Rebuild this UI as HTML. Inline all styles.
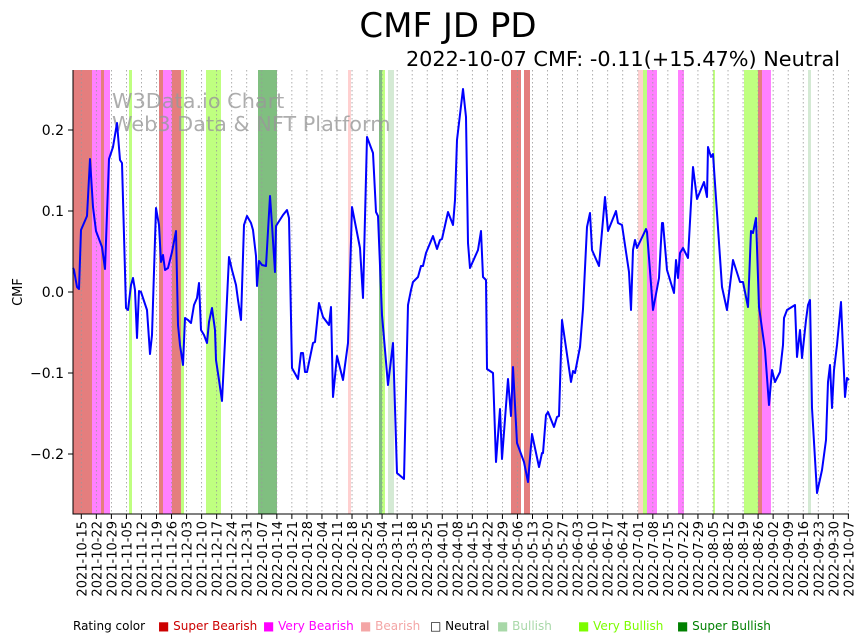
<!DOCTYPE html>
<html><head><meta charset="utf-8"><style>
body{margin:0;background:#fff;width:864px;height:641px;overflow:hidden}
svg{display:block;font-family:"DejaVu Sans","Liberation Sans",sans-serif}
</style></head><body>
<svg width="864" height="641" viewBox="0 0 864 641" xmlns="http://www.w3.org/2000/svg">
<text x="448" y="37" font-size="34" text-anchor="middle">CMF JD PD</text>
<text x="840" y="66" font-size="20.8" text-anchor="end">2022-10-07 CMF: -0.11(+15.47%) Neutral</text>
<g id="bands">
<rect x="73" y="70" width="19" height="444" fill="#e47e7e"/>
<rect x="92" y="70" width="9" height="444" fill="#ff80ff"/>
<rect x="101" y="70" width="3" height="444" fill="#e47e7e"/>
<rect x="104" y="70" width="6" height="444" fill="#ff80ff"/>
<rect x="129" y="70" width="3" height="444" fill="#bfff80"/>
<rect x="159" y="70" width="4" height="444" fill="#e47e7e"/>
<rect x="163" y="70" width="9" height="444" fill="#ff80ff"/>
<rect x="172" y="70" width="9" height="444" fill="#e47e7e"/>
<rect x="181" y="70" width="3" height="444" fill="#bfff80"/>
<rect x="206" y="70" width="15" height="444" fill="#bfff80"/>
<rect x="258" y="70" width="19" height="444" fill="#80bf80"/>
<rect x="348" y="70" width="3" height="444" fill="#ffd0d0"/>
<rect x="379" y="70" width="3" height="444" fill="#80bf80"/>
<rect x="382" y="70" width="3" height="444" fill="#bfff80"/>
<rect x="388" y="70" width="6" height="444" fill="#d4ead4"/>
<rect x="511" y="70" width="10" height="444" fill="#e47e7e"/>
<rect x="524" y="70" width="6" height="444" fill="#e47e7e"/>
<rect x="638" y="70" width="5" height="444" fill="#ffd0d0"/>
<rect x="643" y="70" width="4" height="444" fill="#bfff80"/>
<rect x="647" y="70" width="10" height="444" fill="#ff80ff"/>
<rect x="678" y="70" width="6" height="444" fill="#ff80ff"/>
<rect x="713" y="70" width="2" height="444" fill="#bfff80"/>
<rect x="744" y="70" width="14" height="444" fill="#bfff80"/>
<rect x="758" y="70" width="4" height="444" fill="#e47e7e"/>
<rect x="762" y="70" width="9" height="444" fill="#ff80ff"/>
<rect x="808" y="70" width="3" height="444" fill="#d4ead4"/>
</g>
<g id="grid" stroke="#999" stroke-width="0.8" stroke-dasharray="1.5,2.5"></g>
<text x="112" y="108" font-size="20.8" fill="#999" opacity="0.8">W3Data.io Chart</text>
<text x="112" y="131" font-size="20.8" fill="#999" opacity="0.8">Web3 Data &amp; NFT Platform</text>
<polyline fill="none" stroke="#0000ff" stroke-width="2" stroke-linejoin="round" points="73,268 74,270 77,287 79,289 81,230 87,216 90,159 93,207 96,231 102,247 105,269 109,159 113,147 117,123 120,160 122,163 126,308 128,310 131,285 133,278 135,290 137,338 139,291 141,292 147,310 150,354 152,335 156,208 159,225 161,262 163,255 165,270 168,268 172,252 176,231 178,325 180,345 183,365 185,318 188,320 191,323 194,305 197,298 199,283 201,330 204,335 207,343 209,322 212,308 215,330 216,360 219,380 222,401 225,341 229,257 232,270 236,285 238,300 241,320 244,225 247,216 251,223 253,230 256,256 257,286 259,261 262,265 266,266 270,196 272,225 275,272 276,226 283,215 287,210 289,218 292,368 298,379 301,353 303,353 305,372 307,372 313,343 315,342 319,303 323,317 329,325 331,307 333,397 337,356 343,380 348,343 352,207 360,248 363,298 367,137 373,153 376,212 378,216 382,315 388,385 393,343 397,473 404,479 408,305 411,290 413,282 418,277 421,266 423,266 426,253 433,236 437,249 440,240 442,239 448,212 453,225 455,200 457,140 463,89 466,117 468,243 470,268 478,250 481,231 483,277 486,280 487,369 493,373 496,462 500,409 502,459 508,379 511,416 513,367 517,443 524,462 528,482 532,434 539,467 542,453 543,453 546,415 548,412 554,427 557,417 559,416 562,320 571,382 573,371 575,373 580,347 583,309 587,227 590,213 592,250 599,266 605,197 608,231 616,211 618,223 622,225 629,272 631,310 633,250 635,240 637,248 646,229 647,232 653,310 659,278 662,223 663,223 667,270 674,293 676,260 678,278 680,253 683,248 688,258 693,167 697,199 704,182 707,197 708,147 711,157 713,154 722,287 727,310 733,260 740,282 743,282 748,307 751,231 753,233 756,218 759,307 765,350 769,405 772,370 775,382 780,372 783,345 784,318 787,310 795,305 797,357 800,330 802,358 806,320 808,305 810,300 812,408 817,493 822,470 826,440 828,382 830,365 832,408 834,370 837,345 841,302 845,397 847,378 849,380"/>
<g stroke="#000" stroke-width="1" fill="none">
<line x1="73" y1="70" x2="73" y2="514"/>
<line x1="72.5" y1="514" x2="849" y2="514"/>
<line x1="68" y1="130" x2="73" y2="130"/><line x1="68" y1="211" x2="73" y2="211"/><line x1="68" y1="292" x2="73" y2="292"/><line x1="68" y1="373" x2="73" y2="373"/><line x1="68" y1="454" x2="73" y2="454"/>
</g>
<g font-size="14" text-anchor="end">
<text x="64" y="135">0.2</text><text x="64" y="216">0.1</text><text x="64" y="297">0.0</text><text x="64" y="378">−0.1</text><text x="64" y="459">−0.2</text>
</g>
<text transform="translate(22,292) rotate(-90)" font-size="13" text-anchor="middle">CMF</text>
<g id="xt" font-size="13"></g>
<g font-size="12">
<text x="73" y="630">Rating color</text>
<text x="158" y="630" fill="#cc0000">■ Super Bearish</text>
<text x="263" y="630" fill="#ff00ff">■ Very Bearish</text>
<text x="360" y="630" fill="#f4a6a6">■ Bearish</text>
<text x="430" y="630" fill="#000">□ Neutral</text>
<text x="497" y="630" fill="#a8d8a8">■ Bullish</text>
<text x="578" y="630" fill="#7cfc00">■ Very Bullish</text>
<text x="677" y="630" fill="#008000">■ Super Bullish</text>
</g>
<script>
(function(){
var ns="http://www.w3.org/2000/svg",g=document.getElementById("grid"),xt=document.getElementById("xt");
var d=new Date(Date.UTC(2021,9,15));
for(var k=0;k<52;k++){
 var x=81.3+k*15.04;
 var l=document.createElementNS(ns,"line");l.setAttribute("x1",x);l.setAttribute("x2",x);l.setAttribute("y1",70);l.setAttribute("y2",514);g.appendChild(l);
 var t=document.createElementNS(ns,"line");t.setAttribute("x1",x);t.setAttribute("x2",x);t.setAttribute("y1",514);t.setAttribute("y2",519);t.setAttribute("stroke","#000");xt.appendChild(t);
 var s=d.toISOString().slice(0,10);
 var tx=document.createElementNS(ns,"text");tx.setAttribute("transform","translate("+(x+5)+",521) rotate(-90)");tx.setAttribute("text-anchor","end");tx.textContent=s;xt.appendChild(tx);
 d=new Date(d.getTime()+7*864e5);
}
})();
</script>
</svg>
</body></html>
